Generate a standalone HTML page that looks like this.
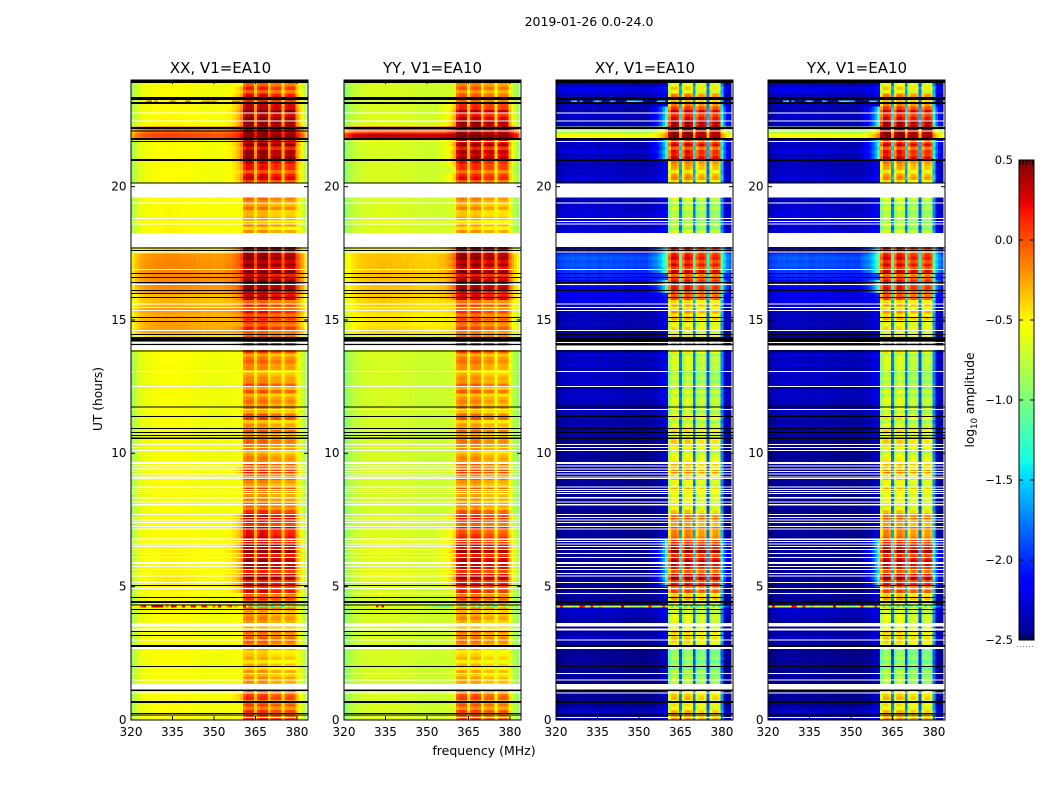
<!DOCTYPE html>
<html lang="en">
<head>
<meta charset="utf-8">
<title>2019-01-26 0.0-24.0</title>
<style>
html,body{margin:0;padding:0;background:#fff;}
svg{display:block;}
text{font-family:"DejaVu Sans","Liberation Sans",sans-serif;fill:#000;}
</style>
</head>
<body>
<svg id="chart" xmlns="http://www.w3.org/2000/svg" width="1050" height="800" viewBox="0 0 1050 800">
  <rect x="0" y="0" width="1050" height="800" fill="#fff"/>
  <text x="589" y="26" font-size="12.5" text-anchor="middle">2019-01-26 0.0-24.0</text>
  <g id="p0"></g>
  <g id="p1"></g>
  <g id="p2"></g>
  <g id="p3"></g>
  <text x="220.5" y="73" font-size="15" text-anchor="middle">XX, V1=EA10</text>
  <text x="432.5" y="73" font-size="15" text-anchor="middle">YY, V1=EA10</text>
  <text x="645" y="73" font-size="15" text-anchor="middle">XY, V1=EA10</text>
  <text x="857" y="73" font-size="15" text-anchor="middle">YX, V1=EA10</text>
  <text transform="translate(102,399) rotate(-90)" font-size="12.2" text-anchor="middle">UT (hours)</text>
  <text x="484" y="755" font-size="12.5" text-anchor="middle">frequency (MHz)</text>
  <g id="cbar"></g>
  <text transform="translate(974,400) rotate(-90)" font-size="12.2" text-anchor="middle">log<tspan font-size="8.5" dy="3">10</tspan><tspan dy="-3"> amplitude</tspan></text>
</svg>
<script>
// ---- chart data (log10 amplitude; rows are 0.25 h, hour 0 first) ----
const xxBase = [
-.56,-.56,-.55,-.56, -.57,-.57,-.56,-.57, -.57,-.56,-.55,-.55, -.56,-.56,-.56,-.56,
-.55,-.56,-.55,-.55, -.52,-.5,-.53,-.54, -.54,-.53,-.54,-.55, -.56,-.56,-.57,-.58,
-.57,-.58,-.58,-.57, -.58,-.57,-.58,-.58, -.58,-.57,-.58,-.58, -.58,-.58,-.57,-.58,
-.58,-.57,-.58,-.58, -.58,-.58,-.57,-.55, -.52,-.45,-.28,-.28, -.3,-.25,-.34,-.34,
-.22,-.2,-.2,-.2, -.2,-.22,-.45,-.5, -.55,-.54,-.54,-.55, -.55,-.55,-.55,-.55,
-.58,-.57,-.57,-.56, -.56,-.56,-.55,0, -.1,-.55,-.55,-.55, -.58,-.56,-.58,-.57];
const yyBase = [
-.7,-.7,-.69,-.7, -.71,-.71,-.7,-.71, -.71,-.7,-.7,-.7, -.7,-.7,-.7,-.7,
-.69,-.7,-.69,-.69, -.66,-.64,-.66,-.67, -.67,-.66,-.67,-.68, -.69,-.69,-.7,-.71,
-.7,-.71,-.71,-.7, -.71,-.7,-.71,-.71, -.71,-.7,-.71,-.71, -.71,-.71,-.7,-.71,
-.71,-.7,-.71,-.71, -.71,-.71,-.7,-.7, -.68,-.6,-.45,-.48, -.48,-.45,-.42,-.4,
-.38,-.38,-.37,-.37, -.37,-.38,-.55,-.6, -.68,-.68,-.68,-.69, -.69,-.69,-.7,-.7,
-.7,-.7,-.7,-.7, -.7,-.7,-.68,.3, 0,-.68,-.68,-.7, -.7,-.69,-.7,-.7];
const xyBase = [
-2.45,-2.4,-2.5,-2.5, -2.5,-2.5,-2.5,-2.5, -2.5,-2.5,-2.5,-2.45, -2.4,-2.45,-2.5,-2.4,
-2.35,-2.45,-2.5,-2.5, -2.5,-2.5,-2.5,-2.5, -2.5,-2.5,-2.5,-2.5, -2.5,-2.5,-2.5,-2.5,
-2.5,-2.5,-2.5,-2.5, -2.5,-2.5,-2.5,-2.5, -2.5,-2.5,-2.45,-2.42, -2.45,-2.42,-2.42,-2.42,
-2.38,-2.42,-2.38,-2.38, -2.42,-2.38,-2.38,-2.42, -2.5,-2.45,-2.45,-2.4, -2.4,-2.4,-2.3,-2.25,
-2.25,-2.15,-2.1,-2.0, -1.95,-1.95,-2.2,-2.4, -2.4,-2.35,-2.32,-2.32, -2.35,-2.4,-2.4,-2.4,
-2.4,-2.35,-2.4,-2.4, -2.4,-2.35,-2.4,-.6, -.9,-2.4,-2.4,-2.42, -2.42,-2.38,-2.3,-2.42];
const yxBase = [
-2.45,-2.4,-2.5,-2.5, -2.5,-2.5,-2.5,-2.5, -2.5,-2.5,-2.5,-2.45, -2.4,-2.45,-2.5,-2.4,
-2.35,-2.45,-2.5,-2.5, -2.5,-2.5,-2.5,-2.5, -2.5,-2.5,-2.5,-2.5, -2.5,-2.5,-2.5,-2.5,
-2.5,-2.5,-2.5,-2.5, -2.5,-2.5,-2.5,-2.5, -2.5,-2.5,-2.45,-2.42, -2.45,-2.42,-2.42,-2.42,
-2.38,-2.42,-2.38,-2.38, -2.42,-2.38,-2.38,-2.42, -2.5,-2.45,-2.45,-2.4, -2.4,-2.4,-2.3,-2.25,
-2.25,-2.15,-2.1,-2.0, -1.95,-1.95,-2.2,-2.4, -2.4,-2.35,-2.32,-2.32, -2.35,-2.4,-2.4,-2.4,
-2.4,-2.35,-2.4,-2.4, -2.4,-2.35,-2.4,-.6, -.9,-2.4,-2.4,-2.42, -2.42,-2.38,-2.3,-2.42];

const xxBand = [
0,-.04,-.04,.01, 0,-.29,-.29,-.34, -.34,-.39,-.34,-.14, -.14,-.19,-.09,-.24,
-.19,-.14,-.04,.11, .26,.36,.21,.36, .26,.41,.36,.21, .26,.11,.26,-.04,
-.04,-.24,-.04,-.24, -.09,.01,-.04,-.24, -.29,-.14,-.24,-.14, -.24,-.04,-.24,-.19,
-.29,-.14,-.04,-.29, -.29,-.14,-.24,-.09, .26,-.09,.01,-.04, .01,.06,.06,.26,
.36,.41,.26,.41, .46,.41,.41,-.14, -.19,-.34,-.19,-.34, -.24,-.24,-.19,.06,
.16,.21,.06,.21, .46,.31,.46,.5, .5,.46,.36,.46, .26,.21,.01,-.04];
const yyBand = [
-.1,-.1,-.1,-.05, -.08,-.35,-.36,-.4, -.38,-.42,-.4,-.2, -.2,-.25,-.18,-.28,
-.25,-.2,-.1,0, .25,.3,.15,.3, .2,.3,.25,.05, .05,-.05,.1,-.15,
-.16,-.28,-.13,-.28, -.13,-.06,-.1,-.28, -.33,-.18,-.28,-.2, -.28,-.1,-.28,-.23,
-.33,-.18,-.1,-.3, -.33,-.18,-.26,-.13, .2,-.15,-.1,-.12, -.08,-.05,0,.2,
.3,.35,.2,.35, .42,.4,.38,-.2, -.25,-.35,-.3,-.38, -.3,-.3,-.25,0,
.05,.1,-.02,.12, .35,.25,.4,.48, .5,.42,.2,.25, .05,-.05,-.15,-.15];
const xyBand = [
-.3,-.45,-.5,-.4, -.4,-.85,-.85,-.9, -.85,-.9,-.85,-.5, -.45,-.5,-.5,-.65,
-.6,-.5,-.35,-.1, .2,.3,.05,.3, .15,.35,.25,-.15, -.1,-.25,-.1,-.5,
-.45,-.6,-.4,-.6, -.4,-.3,-.35,-.6, -.65,-.45,-.55,-.55, -.65,-.55,-.7,-.7,
-.75,-.75,-.7,-.8, -.75,-.7,-.75,-.6, -.1,-.5,-.55,-.55, -.4,-.35,-.3,-.05,
.05,.1,-.05,.15, .2,.15,.1,-.55, -.6,-.8,-.7,-.8, -.75,-.8,-.7,-.4,
-.3,-.25,-.4,-.2, .2,.05,.25,.45, .5,.4,.15,.2, -.2,-.15,-.5,-.55];
const yxBand = [
-.3,-.45,-.5,-.4, -.4,-.85,-.85,-.9, -.85,-.9,-.85,-.5, -.45,-.5,-.5,-.65,
-.6,-.5,-.35,-.1, .2,.3,.05,.3, .15,.35,.25,-.15, -.1,-.25,-.1,-.5,
-.45,-.6,-.4,-.6, -.4,-.3,-.35,-.6, -.65,-.45,-.55,-.55, -.65,-.55,-.7,-.7,
-.75,-.75,-.7,-.8, -.75,-.7,-.75,-.6, -.1,-.5,-.55,-.55, -.4,-.35,-.3,-.05,
.05,.1,-.05,.15, .2,.15,.1,-.55, -.6,-.8,-.7,-.8, -.75,-.8,-.7,-.4,
-.3,-.25,-.4,-.2, .2,.05,.25,.45, .5,.4,.15,.2, -.2,-.15,-.5,-.55];

// per-channel shape (channel i is centred on 320+i MHz)
const parallelProfile = [
-.32,-.22,-.14,-.08,-.04,-.02,0,.01,.02,.03,.03,.04,.04,.05,.05,.05,
.04,.05,.04,.04,.03,.03,.02,.03,.01,.02,0,0,.01,0,-.01,0,
0,-.01,-.01,0,-.01,0,0,0,0,0,0,0,0,0,0,0,
0,0,0,0,0,0,0,0,0,0,0,0,0,-.06,-.14,-.24];
const crossProfile = [
0,0,.02,.05,.07,.06,.09,.05,.08,.07,.1,.06,.05,.07,.09,.05,
.03,.06,.07,.05,.07,.03,.05,.04,.06,.03,.02,.04,.02,.01,.03,.01,
.02,.01,.02,.03,.03,.04,.05,.06,.06,0,0,0,0,0,0,0,
0,0,0,0,0,0,0,0,0,0,0,0,0,.04,.02,0];
const bandWeight = [
0,0,0,0,0,0,0,0,0,0,0,0,0,0,0,0,
0,0,0,0,0,0,0,0,0,0,0,0,0,0,0,0,
0,0,.02,.03,.04,.06,.09,.14,.2,.85,1,1,.95,.35,.85,1,
1,.95,.35,.9,1,1,.95,.3,.9,1,1,.95,.4,.1,.05,.02];
const subbandOffsets = [.05,.05,-.05,-.05];
// fine time structure inside the observing band (1/8 h steps)
const bandRipple = [.1,-.06,.13,-.12,.05,-.14,.09,0,-.09,.12,-.04,.07];
const crossRipple = [.02,-.02,.04,-.03,.01,.03,-.02,.01];

// single bad-integration rows
const xxSpike42 = [
-.56,-.56,-.5,-.56,.1,.25,-.56,-.5,.3,.3,.35,.3,-.56,-.1,-.56,.3,
.2,-.56,-.5,.2,-.56,-.56,.1,.2,-.56,-.5,.2,.1,-.56,-.5,-.1,-.56,
.2,-.5,-.56,-.2,.1,-.5,-.3,-.56,-.5,.2,-.6,-.1,-1.3,-.4,-1.4,-1.3,
-.3,-1.4,-.4,-1.4,-1.3,-.4,-1.3,-1.4,-.6,-1.2,-.4,-1.3,-.8,-.7,-.9,-.9];
const yySpike42 = [
-.85,-.8,-.75,-.7,-.7,-.7,-.7,-.7,-.7,-.65,-.5,-.6,.1,-.7,.2,-.7,
-.7,-.7,-.7,-.7,-.7,-.6,-.7,-.7,-.7,-.7,-.6,-.7,-.7,-.7,-.7,-.8,
-.9,-.9,-1,-1,-1.1,-1,-1,-.9,-.5,-.4,-1.2,-.3,-1.3,-.5,-.4,-1.2,
-.5,-1.3,-.4,-.5,-1.2,-.4,-1.2,-1.3,-.5,-.4,-1.2,-.5,-.9,-.9,-.9,-.9];
const crossSpike42 = [
-.9,-.8,.1,-.8,-.7,-.6,-.9,-.8,-.5,.2,.1,-.7,-.9,.1,-.7,-.8,
-.3,-.8,-.6,-.7,-1,-.5,-.8,-.7,.2,-.8,-.6,-.9,-.7,-.9,-.8,-1,
-.7,-.5,.1,-.9,-.8,-.6,-.9,.1,-1,-.6,-1.4,-.5,-1.3,-1.3,-.6,-1.4,
-.5,-1.4,-.4,-1.3,-1.2,-.5,-1.3,-1.2,-.6,-1.4,-.5,-1.3,-1.2,-1.8,-1.9,-2];
const topSpikeChannels = [6,7,9,14,15,16,20,21,26,27,28,29,30,31,37,38,39];
const xxTopSpikeValues = [-.1,0,-.1,-.3,0,-.2,-.1,0,-.2,-.2,-.1,-.3,-.1,-.3,-.1,-.1,-.1];
const crossTopSpikeValues = [-1.5,-1.4,-1.6,-1.5,-1.4,-1.6,-1.5,-1.6,-1.4,-1.3,-1.3,-1.4,-1.5,-1.6,-1.5,-1.4,-1.5];

// flagged / missing data, in UT hours
const missingBlocks = [[19.59,20.11],[17.74,18.26],[13.875,14.04],[9.6,9.675],[8.31,8.36],[8.04,8.1],[6.75,6.81],[5.85,5.925],[3.5,3.63],[3.35,3.44],[2.66,2.73],[1.15,1.35]];
const missingLines = [22.77,22.47,22.09,21.69,19.38,18.81,18.7,18.6,17.55,16.9,16.34,15.6,15.47,15.35,14.6,14.15,13.06,12.51,11.65,10.34,10.21,10.1,9.53,9.42,9.31,9.23,9.12,9.05,8.73,8.65,8.56,8.5,8.18,7.7,7.6,7.5,7.4,7.25,7.16,6.69,6.6,6.5,6.4,6.25,6.1,5.75,5.65,5.5,5.4,5.15,4.94,4.75,3,1.74,1.5,1.02,.1];
const flagBlocks = [[23.89,24],[23.25,23.36],[23.1,23.175],[22.16,22.24],[21.75,21.825],[20.96,21.04],[14.19,14.37],[10.53,10.6],[4.39,4.46],[2.74,2.81],[1.08,1.15],[.64,.71]];
const flagLines = [20.13,17.7,17.6,16.75,16.59,16.4,16.1,16,15.85,15.1,14.94,14.45,14.09,13.84,11.73,11.39,10.94,10.79,10.66,5.05,4.6,4.32,4.15,4,3.31,3.16,2,.24,.19];
const xxFlagLines = [22.09,21.69];

// axis ticks
const freqTicks = [320,335,350,365,380];
const hourTicks = [0,5,10,15,20];
const cbarTicks = [-2.5,-2,-1.5,-1,-.5,0,.5];
const cbarTickLabels = ['\u22122.5','\u22122.0','\u22121.5','\u22121.0','\u22120.5','0.0','0.5'];

// ---- rendering ----
const SVGNS = 'http://www.w3.org/2000/svg';
const panelLefts = [131, 344, 556, 768];
const panelWidth = 177;
const plotTop = 80, plotBottom = 720;
const freqMin = 320, freqMax = 384, hourMin = 0, hourMax = 24;
const vMin = -2.5, vMax = .5;
const cbarLeft = 1019, cbarRight = 1034, cbarTop = 160, cbarBottom = 640;
const rowHours = .25, fineRowHours = .125;
const firstBandChannel = 41, lastBandChannel = 60, channelsPerSubband = 5;

function xScale(left, f){ return left + (f - freqMin) / (freqMax - freqMin) * panelWidth; }
function yScale(h){ return plotBottom - (h - hourMin) / (hourMax - hourMin) * (plotBottom - plotTop); }
function cbarScale(v){ return cbarBottom - (v - vMin) / (vMax - vMin) * (cbarBottom - cbarTop); }
function channelFreq(c){ return freqMin + c; }

function jetPart(x){
  return Math.max(0, Math.min(1, x));
}
function jet(v){
  const t = Math.max(0, Math.min(1, (v - vMin) / (vMax - vMin)));
  const r = jetPart(t < .89 ? (t - .35) / .31 : 1 - (t - .89) / .11 * .5);
  const g = jetPart(t < .5 ? (t - .125) / .25 : (.91 - t) / .25);
  const b = jetPart(t < .11 ? .5 + t / .11 * .5 : (.65 - t) / .31);
  return 'rgb(' + Math.round(r * 255) + ',' + Math.round(g * 255) + ',' + Math.round(b * 255) + ')';
}
function node(tag, attrs){
  const el = document.createElementNS(SVGNS, tag);
  for (const k in attrs) el.setAttribute(k, attrs[k]);
  return el;
}
function quant(v){ return Math.round(v * 60) / 60; }

const panels = [
  {key:'xx', base:xxBase, band:xxBand, profile:parallelProfile, spike:xxSpike42, top:xxTopSpikeValues, cross:false},
  {key:'yy', base:yyBase, band:yyBand, profile:parallelProfile, spike:yySpike42, top:null, cross:false},
  {key:'xy', base:xyBase, band:xyBand, profile:crossProfile, spike:crossSpike42, top:crossTopSpikeValues, cross:true},
  {key:'yx', base:yxBase, band:yxBand, profile:crossProfile, spike:crossSpike42, top:crossTopSpikeValues, cross:true}
];

function addCellRun(group, left, chStart, chEnd, hStart, hEnd, v){
  const x0 = xScale(left, channelFreq(chStart) - .5), x1 = xScale(left, channelFreq(chEnd) + .5);
  const y0 = yScale(hEnd), y1 = yScale(hStart);
  const cell = node('rect', {x:x0.toFixed(2), y:y0.toFixed(2), width:(x1 - x0).toFixed(2), height:(y1 - y0).toFixed(2), fill:jet(v)});
  
  
  group.appendChild(cell);
}
function addChannelRow(group, left, values, hStart, hEnd){
  let runStart = 0, runVal = quant(values[0]);
  for (let c = 1; c <= values.length; c++){
    const q = c < values.length ? quant(values[c]) : null;
    if (q !== runVal){
      addCellRun(group, left, runStart, c - 1, hStart, hEnd, runVal);
      runStart = c; runVal = q;
    }
  }
}

panels.forEach(function(p, idx){
  const left = panelLefts[idx];
  const right = left + panelWidth;
  const g = document.getElementById('p' + idx);

  const clip = node('clipPath', {id:'clip-' + p.key});
  clip.appendChild(node('rect', {x:left, y:plotTop, width:panelWidth, height:plotBottom - plotTop}));
  g.appendChild(clip);

  const heat = node('g', {'clip-path':'url(#clip-' + p.key + ')', 'shape-rendering':'crispEdges'});
  
  
  g.appendChild(heat);

  const fineRows = p.base.length * Math.round(rowHours / fineRowHours);
  for (let r = 0; r < fineRows; r++){
    const h = r * fineRowHours;
    const i = Math.floor(h / rowHours);
    const ripple = bandRipple[r % bandRipple.length];
    const baseRipple = p.cross ? crossRipple[r % crossRipple.length] : 0;
    const tailGain = p.band[i] > 0 ? 2 : .4;
    const values = bandWeight.map(function(w, c){
      const b = p.base[i] + p.profile[c] + baseRipple;
      const inBand = c >= firstBandChannel && c <= lastBandChannel;
      const weight = inBand ? w : w * tailGain;
      const offset = inBand ? subbandOffsets[Math.min(3, Math.floor((c - firstBandChannel) / channelsPerSubband))] : 0;
      return b + (p.band[i] + ripple + offset - b) * weight;
    });
    addChannelRow(heat, left, values, h, h + fineRowHours);
  }
  addChannelRow(heat, left, p.spike, 4.225, 4.285);
  if (p.top){
    topSpikeChannels.forEach(function(ch, k){
      addCellRun(heat, left, ch, ch, 23.18, 23.23, p.top[k]);
    });
  }

  missingBlocks.forEach(function(b){
    const gap = node('rect', {x:left, y:yScale(b[1]), width:panelWidth, height:yScale(b[0]) - yScale(b[1]), fill:'#fff'});
    
    
    heat.appendChild(gap);
  });
  missingLines.forEach(function(h){
    const gapLine = node('rect', {x:left, y:yScale(h) - .5, width:panelWidth, height:1, fill:'#fff'});
    
    
    heat.appendChild(gapLine);
  });
  flagBlocks.forEach(function(b){
    const flag = node('rect', {x:left, y:yScale(b[1]), width:panelWidth, height:yScale(b[0]) - yScale(b[1]), fill:'#000'});
    
    
    heat.appendChild(flag);
  });
  flagLines.concat(p.key === 'xx' ? xxFlagLines : []).forEach(function(h){
    const flagLine = node('rect', {x:left, y:yScale(h) - .5, width:panelWidth, height:1, fill:'#000'});
    
    
    heat.appendChild(flagLine);
  });

  freqTicks.forEach(function(f){
    const x = xScale(left, f);
    const tb = node('line', {x1:x, x2:x, y1:plotBottom, y2:plotBottom - 4, stroke:'#000', 'stroke-width':1});
    
    
    g.appendChild(tb);
    const tt = node('line', {x1:x, x2:x, y1:plotTop, y2:plotTop + 4, stroke:'#000', 'stroke-width':1});
    
    
    g.appendChild(tt);
    const lab = node('text', {x:x, y:plotBottom + 16, 'font-size':12, 'text-anchor':'middle'});
    
    
    lab.textContent = String(f);
    g.appendChild(lab);
  });
  hourTicks.forEach(function(h){
    const y = yScale(h);
    const tl = node('line', {x1:left, x2:left + 4, y1:y, y2:y, stroke:'#000', 'stroke-width':1});
    
    
    g.appendChild(tl);
    const tr = node('line', {x1:right, x2:right - 4, y1:y, y2:y, stroke:'#000', 'stroke-width':1});
    
    
    g.appendChild(tr);
    const lab = node('text', {x:left - 4.5, y:y + 3.8, 'font-size':12, 'text-anchor':'end'});
    
    
    lab.textContent = String(h);
    g.appendChild(lab);
  });

  const frame = node('rect', {x:left, y:plotTop, width:panelWidth, height:plotBottom - plotTop, fill:'none', stroke:'#000', 'stroke-width':1});
  
  
  g.appendChild(frame);
});

// colorbar
(function(){
  const g = document.getElementById('cbar');
  const barSteps = cbarBottom - cbarTop;
  for (let i = 0; i < barSteps; i++){
    const v = vMin + (vMax - vMin) * (i + .5) / barSteps;
    const y = cbarScale(v);
    const seg = node('rect', {x:cbarLeft, y:(y - .5).toFixed(2), width:cbarRight - cbarLeft, height:1.2, fill:jet(v), 'shape-rendering':'crispEdges'});
    
    
    g.appendChild(seg);
  }
  cbarTicks.forEach(function(v, i){
    const y = cbarScale(v);
    if (i > 0 && i < cbarTicks.length - 1){
      const a = node('line', {x1:cbarLeft, x2:cbarLeft + 4, y1:y, y2:y, stroke:'#000', 'stroke-width':1});
      
      
      g.appendChild(a);
      const b = node('line', {x1:cbarRight, x2:cbarRight - 4, y1:y, y2:y, stroke:'#000', 'stroke-width':1});
      
      
      g.appendChild(b);
    }
    const lab = node('text', {x:cbarLeft - 6, y:y + 4, 'font-size':11.5, 'text-anchor':'end'});
    
    
    lab.textContent = cbarTickLabels[i];
    g.appendChild(lab);
  });
  for (let k = 0; k < 5; k++){
    const x = cbarLeft + 1 + k * 3.2;
    const top = node('line', {x1:x, x2:x, y1:cbarTop, y2:cbarTop + 5, stroke:'#000', 'stroke-width':1});
    
    
    g.appendChild(top);
    const bot = node('line', {x1:x, x2:x, y1:cbarBottom, y2:cbarBottom - 5, stroke:'#000', 'stroke-width':1});
    
    
    g.appendChild(bot);
  }
  const dots = node('line', {x1:1017, x2:1035, y1:646.5, y2:646.5, stroke:'#888', 'stroke-width':1, 'stroke-dasharray':'1 2'});
  
  
  g.appendChild(dots);
  const frame = node('rect', {x:cbarLeft, y:cbarTop, width:cbarRight - cbarLeft, height:cbarBottom - cbarTop, fill:'none', stroke:'#000', 'stroke-width':1});
  
  
  g.appendChild(frame);
})();
</script>
</body>
</html>
